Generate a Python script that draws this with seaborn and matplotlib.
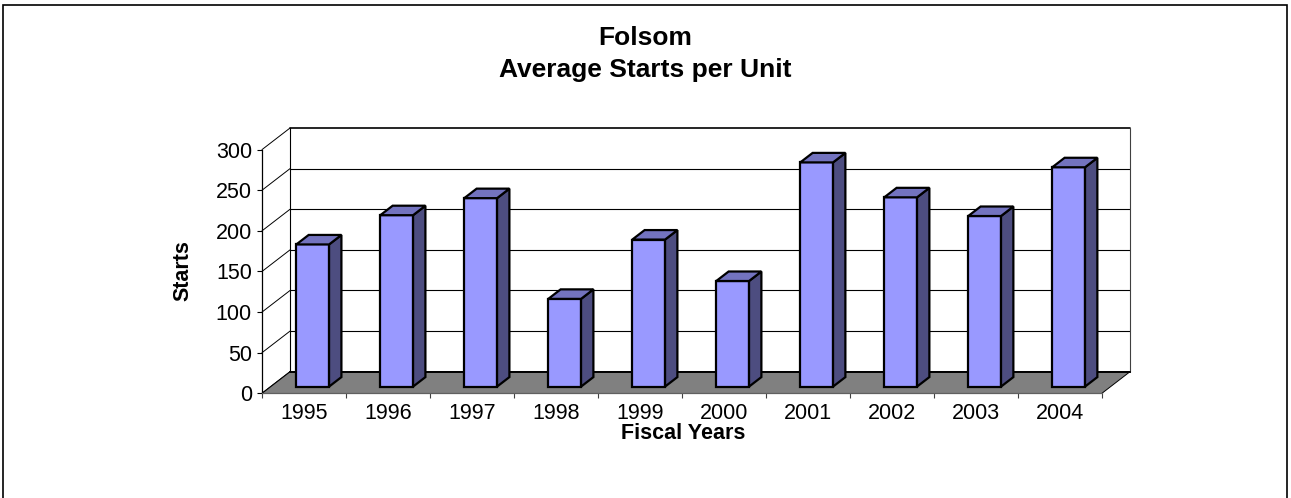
import matplotlib
matplotlib.use("Agg")
import pandas as pd
import matplotlib.pyplot as plt
from matplotlib.patches import Polygon, Rectangle
import seaborn as sns

years = ["1995", "1996", "1997", "1998", "1999", "2000", "2001", "2002", "2003", "2004"]
starts = [175, 211, 232, 108, 181, 130, 276, 233, 210, 270]
yticks = [0, 50, 100, 150, 200, 250, 300]

df = pd.DataFrame({"year": years, "starts": starts})

sns.set_style("ticks")
plt.rcParams["font.family"] = ["Liberation Sans", "DejaVu Sans"]
for k in ["text.color", "axes.labelcolor", "xtick.color", "ytick.color"]:
    plt.rcParams[k] = "black"

fig = plt.figure(figsize=(12.91, 4.98), dpi=100)
ax = fig.add_axes([262 / 1291, 1 - 393.3 / 498, 868 / 1291, 265.3 / 498])

# oblique depth of the fake 3d box, in data units
DX, DY = 0.334, 26.6
x0, x1 = -0.5, len(years) - 0.5
ymax = yticks[-1]

sns.barplot(data=df, x="year", y="starts", color="#9999ff", saturation=1,
            width=0.39, edgecolor="black", linewidth=1.6, ax=ax, zorder=3)
bars = list(ax.patches)

# back wall + gridlines
ax.add_patch(Rectangle((x0 + DX, DY), x1 - x0, ymax, fc="white", ec="none", zorder=0))
for v in yticks:
    lw = 1.2 if v in (0, ymax) else 0.8
    ax.plot([x0 + DX, x1 + DX], [v + DY, v + DY], color="black", lw=lw, zorder=1, clip_on=False)
    ax.plot([x0, x0 + DX], [v, v + DY], color="black", lw=0.7, zorder=1, clip_on=False)
ax.plot([x0 + DX, x0 + DX], [DY, ymax + DY], color="black", lw=0.8, zorder=1, clip_on=False)
ax.plot([x1 + DX, x1 + DX], [DY, ymax + DY], color="#404040", lw=0.8, zorder=1, clip_on=False)

# floor
floor = Polygon([(x0, 0), (x1, 0), (x1 + DX, DY), (x0 + DX, DY)], closed=True,
                fc="#808080", ec="none", zorder=1.5)
ax.add_patch(floor)
ax.plot([x1, x1 + DX], [0, DY], color="black", lw=0.7, zorder=1.6, clip_on=False)
ax.plot([x0, x0 + DX], [0, DY], color="black", lw=0.8, zorder=1.6)
ax.plot([x0 + DX, x1 + DX], [DY, DY], color="black", lw=1.4, zorder=1.6, clip_on=False)

# give each bar a depth: shift front face, add side and top faces
d0, d1 = 0.31, 0.75
sdx, sdy = (d1 - d0) * DX, (d1 - d0) * DY
for p in bars:
    x = p.get_x() + d0 * DX
    y = d0 * DY
    w, h = p.get_width(), p.get_height()
    p.set_x(x)
    p.set_y(y)
    p.set_joinstyle("miter")
    side = [(x + w, y), (x + w + sdx, y + sdy), (x + w + sdx, y + h + sdy), (x + w, y + h)]
    top = [(x, y + h), (x + sdx, y + h + sdy), (x + w + sdx, y + h + sdy), (x + w, y + h)]
    ax.add_patch(Polygon(side, closed=True, fc="#4d4d80", ec="black", lw=1.6,
                         joinstyle="miter", zorder=3))
    ax.add_patch(Polygon(top, closed=True, fc="#7373bf", ec="black", lw=1.6,
                         joinstyle="miter", zorder=3))

ax.set_xlim(x0, x1 + DX)
ax.set_ylim(0, ymax + DY)
ax.spines["top"].set_visible(False)
ax.spines["right"].set_visible(False)
ax.spines["left"].set_bounds(0, ymax)
ax.spines["bottom"].set_bounds(x0, x1)
ax.spines["left"].set_color("black")
ax.spines["left"].set_linewidth(0.9)
ax.spines["bottom"].set_color("#606060")
ax.spines["bottom"].set_linewidth(0.9)

ax.set_yticks(yticks)
ax.set_yticklabels([str(v) for v in yticks], fontsize=15.5)
ax.tick_params(axis="y", direction="out", length=3.8, width=0.8, pad=3.5, left=True)
ax.set_xticks(range(len(years)))
ax.set_xticklabels(years, fontsize=15.5)
ax.set_xticks([x0 + i for i in range(len(years) + 1)], minor=True)
ax.tick_params(axis="x", which="major", length=0, pad=7)
ax.tick_params(axis="x", which="minor", direction="out", length=3.8, width=0.8, color="#404040")

ax.set_xlabel("Fiscal Years", fontsize=15.5, fontweight="bold", va="center")
ax.xaxis.set_label_coords(0.485, -0.15)
ax.set_ylabel("Starts", fontsize=15.5, fontweight="bold", va="center")
ax.yaxis.set_label_coords(-0.091, 0.461)

fig.suptitle("Folsom\nAverage Starts per Unit", fontsize=19, fontweight="bold",
             x=0.4996, y=1 - 54 / 498, va="center", linespacing=1.38)

# chart-area border
fig.add_artist(Rectangle((3 / 1291, -0.01), 1284 / 1291, 1 - 5 / 498 + 0.01,
                         transform=fig.transFigure, fill=False, ec="black", lw=1.2))

fig.savefig("out.png", dpi=100)
